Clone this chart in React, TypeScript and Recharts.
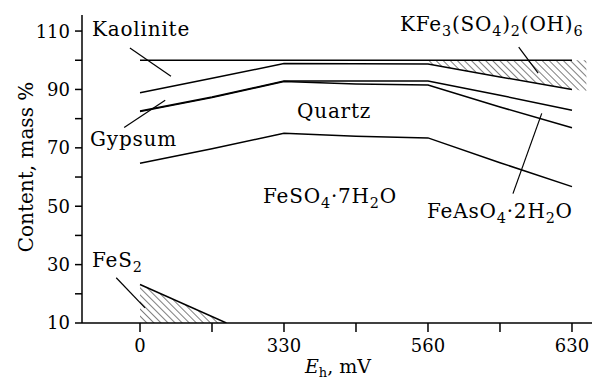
import React from 'react'
import { ComposedChart, Line, Area, XAxis, YAxis, ReferenceLine } from 'recharts'

// x positions are the evenly spaced tick slots of the Eh axis (0..6)
const slots = [0, 1, 2, 3, 4, 5, 6]
const ehLabels = ['0', '', '330', '', '560', '', '630']
const yTicks = [10, 20, 30, 40, 50, 60, 70, 80, 90, 100, 110]

// boundary lines, mass %
const totalLine = [100, 100, 100, 100, 100, 100, 100]
const kaoliniteLower = [88.9, 93.8, 98.9, 98.8, 98.7, 94.3, 90.0]
const gypsumUpper = [82.6, 87.4, 92.9, 92.9, 92.9, 88.0, 82.9]
const gypsumLower = [82.4, 87.2, 92.7, 91.9, 91.5, 84.0, 76.9]
const quartzLower = [64.7, 69.7, 75.0, 74.0, 73.4, 64.9, 56.7]

// hatched jarosite wedge (top right) and pyrite wedge (bottom left)
const jarositeX = [4, 5, 6, 6.2]
const jarositeLow = [98.7, 94.3, 90.0, 89.5]
const jarositeHigh = [100, 100, 100, 100]
const pyriteX = [0, 1.2]
const pyriteTop = [23.2, 10]

const toPoints = (xs: number[], ys: number[]) => xs.map((x, i) => ({ x, v: ys[i] }))

const font = '"DejaVu Serif", serif'

type Seg = { t: string; sub?: boolean }

function Formula({ x, y, parts, size = 20 }: { x: number; y: number; parts: Seg[]; size?: number }) {
  const out: React.ReactNode[] = []
  let shifted = false
  parts.forEach((p, i) => {
    let dy = 0
    if (p.sub && !shifted) { dy = 5; shifted = true }
    else if (!p.sub && shifted) { dy = -5; shifted = false }
    out.push(
      <tspan key={i} dy={dy} fontSize={p.sub ? size * 0.72 : size}>{p.t}</tspan>
    )
  })
  return (
    <text x={x} y={y} fontFamily={font} fontSize={size} letterSpacing={0.8} fill="#000">{out}</text>
  )
}

const YTick = (props: any) => {
  const { x, y, payload } = props
  const v = payload.value
  return (
    <g>
      <line x1={x - 7} x2={x} y1={y} y2={y} stroke="#000" strokeWidth={1.5} />
      {(v - 10) % 20 === 0 && (
        <text x={x - 12} y={y} dy="0.36em" textAnchor="end" fontFamily={font} fontSize={18} fill="#000">{v}</text>
      )}
    </g>
  )
}

export default function App() {
  const lineProps = { type: 'linear' as const, dataKey: 'v', stroke: '#000', strokeWidth: 1.5, dot: false, isAnimationActive: false }
  const jarosite = jarositeX.map((x, i) => ({ x, r: [jarositeLow[i], jarositeHigh[i]] }))
  const pyrite = toPoints(pyriteX, pyriteTop)

  return (
    <div style={{ position: 'absolute', left: 0, top: 0, width: 592, height: 382, background: '#fff' }}>
      <ComposedChart width={592} height={382} margin={{ top: 15, right: 0, bottom: 0, left: 0 }}>
        <defs>
          <pattern id="hatch" patternUnits="userSpaceOnUse" width="5" height="5" patternTransform="rotate(-45)">
            <line x1="0" y1="0" x2="0" y2="5" stroke="#000" strokeWidth="1" />
          </pattern>
        </defs>
        <XAxis
          type="number"
          dataKey="x"
          domain={[-0.8056, 6.278]}
          allowDataOverflow
          ticks={slots}
          tickFormatter={(i: number) => ehLabels[i] ?? ''}
          height={59}
          tickSize={9}
          tickMargin={7}
          stroke="#000"
          axisLine={{ stroke: '#000', strokeWidth: 1.5 }}
          tickLine={{ stroke: '#000', strokeWidth: 1.5 }}
          tick={{ fill: '#000', fontFamily: font, fontSize: 18 }}
        />
        <YAxis
          type="number"
          domain={[10, 115.5]}
          allowDataOverflow
          ticks={yTicks}
          width={82}
          tickSize={0}
          tickMargin={0}
          tickLine={false}
          axisLine={{ stroke: '#000', strokeWidth: 1.5 }}
          tick={<YTick />}
        />
        <Area data={jarosite} type="linear" dataKey="r" stroke="none" fill="url(#hatch)" fillOpacity={1} isAnimationActive={false} />
        <Area data={pyrite} type="linear" dataKey="v" baseValue={10} stroke="none" fill="url(#hatch)" fillOpacity={1} isAnimationActive={false} />
        <Line data={toPoints(slots, totalLine)} {...lineProps} />
        <Line data={toPoints(slots, kaoliniteLower)} {...lineProps} />
        <Line data={toPoints(slots, gypsumUpper)} {...lineProps} />
        <Line data={toPoints(slots, gypsumLower)} {...lineProps} />
        <Line data={toPoints(slots, quartzLower)} {...lineProps} />
        <Line data={pyrite} {...lineProps} />
        {/* leader lines */}
        <ReferenceLine segment={[{ x: -0.14, y: 104.2 }, { x: 0.43, y: 94.5 }]} stroke="#000" strokeWidth={1.2} />
        <ReferenceLine segment={[{ x: -0.22, y: 77 }, { x: 0.35, y: 86.3 }]} stroke="#000" strokeWidth={1.2} />
        <ReferenceLine segment={[{ x: 5.26, y: 104.5 }, { x: 5.53, y: 95.6 }]} stroke="#000" strokeWidth={1.2} />
        <ReferenceLine segment={[{ x: 5.58, y: 81.8 }, { x: 5.18, y: 54.3 }]} stroke="#000" strokeWidth={1.2} />
        <ReferenceLine segment={[{ x: -0.33, y: 25.5 }, { x: 0.07, y: 15.2 }]} stroke="#000" strokeWidth={1.2} />
      </ComposedChart>
      <svg width={592} height={382} style={{ position: 'absolute', left: 0, top: 0, pointerEvents: 'none' }}>
        <Formula x={92} y={36} parts={[{ t: 'Kaolinite' }]} />
        <Formula x={90} y={146} parts={[{ t: 'Gypsum' }]} />
        <Formula x={297} y={118} parts={[{ t: 'Quartz' }]} />
        <Formula x={263} y={203} parts={[{ t: 'FeSO' }, { t: '4', sub: true }, { t: '·7H' }, { t: '2', sub: true }, { t: 'O' }]} />
        <Formula x={427} y={218} parts={[{ t: 'FeAsO' }, { t: '4', sub: true }, { t: '·2H' }, { t: '2', sub: true }, { t: 'O' }]} />
        <Formula x={400} y={31} parts={[{ t: 'KFe' }, { t: '3', sub: true }, { t: '(SO' }, { t: '4', sub: true }, { t: ')' }, { t: '2', sub: true }, { t: '(OH)' }, { t: '6', sub: true }]} />
        <Formula x={92} y={267} parts={[{ t: 'FeS' }, { t: '2', sub: true }]} />
        <text x={338} y={373} textAnchor="middle" fontFamily={font} fontSize={19} fill="#000">
          <tspan fontStyle="italic">E</tspan>
          <tspan dy={4} fontSize={13}>h</tspan>
          <tspan dy={-4}>, mV</tspan>
        </text>
        <text x={33} y={167} transform="rotate(-90 33 167)" textAnchor="middle" fontFamily={font} fontSize={20} fill="#000">
          Content, mass %
        </text>
      </svg>
    </div>
  )
}
